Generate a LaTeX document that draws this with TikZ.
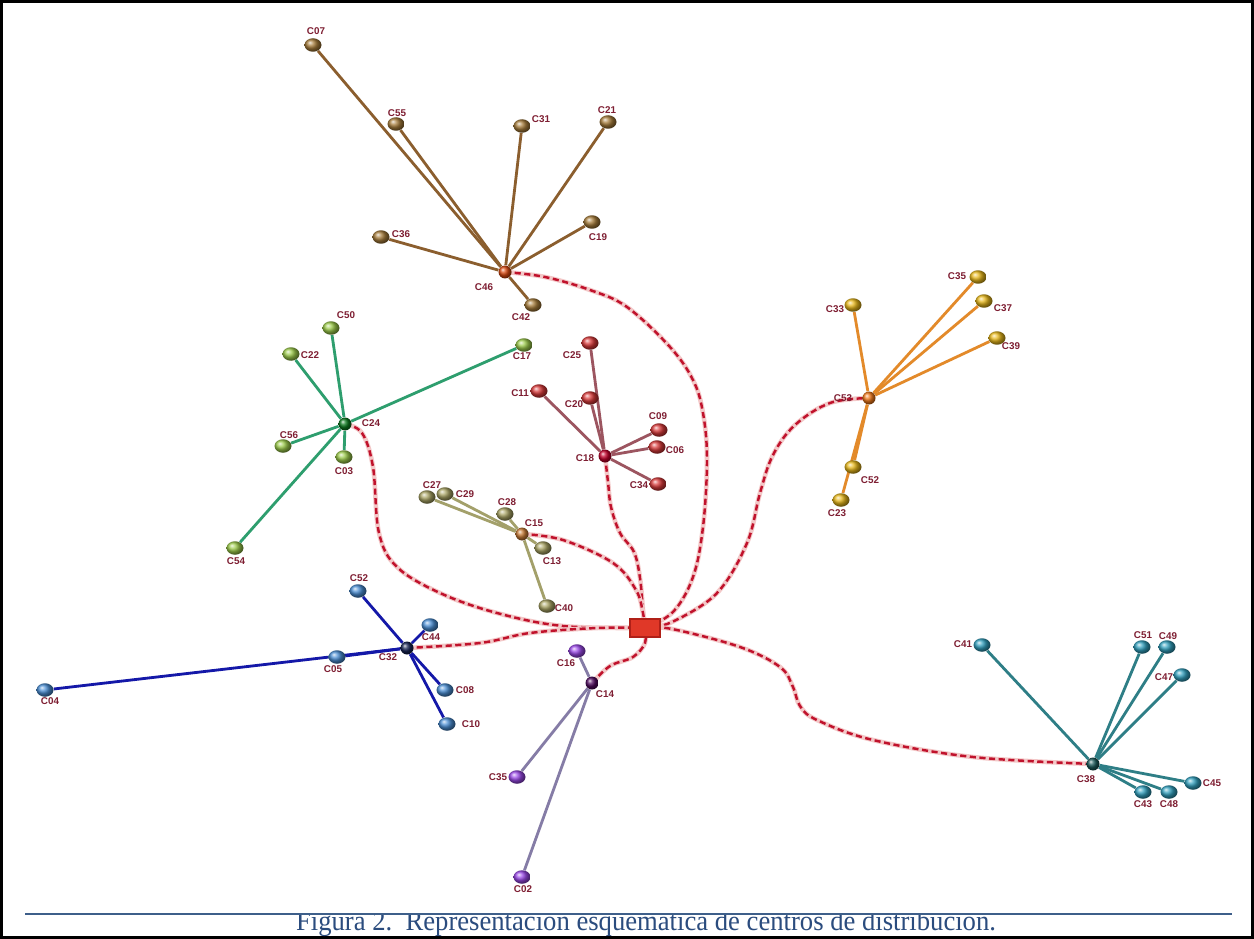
\documentclass[tikz,border=0pt]{standalone}
\usepackage{fontspec}
\usepackage{graphicx}
\usetikzlibrary{shapes.geometric,backgrounds}
\newfontfamily\labfont{Liberation Sans}
\newfontfamily\capfont{Liberation Serif}

% line and ball colours of each group
\definecolor{brLine}{HTML}{8B5E2E}\definecolor{brBall}{HTML}{A67C3A}\definecolor{brHub}{HTML}{D9480F}
\definecolor{grLine}{HTML}{2E9E6E}\definecolor{grBall}{HTML}{9CCB4A}\definecolor{grHub}{HTML}{0B7A1E}
\definecolor{rdLine}{HTML}{9C5560}\definecolor{rdBall}{HTML}{D93A3A}\definecolor{rdHub}{HTML}{C4002A}
\definecolor{orLine}{HTML}{E38A2A}\definecolor{orBall}{HTML}{E8B81A}\definecolor{orHub}{HTML}{F07818}
\definecolor{olLine}{HTML}{A3A06A}\definecolor{olBall}{HTML}{A9A464}\definecolor{olHub}{HTML}{C87A34}
\definecolor{blLine}{HTML}{1418A8}\definecolor{blBall}{HTML}{4A8ED4}\definecolor{blHub}{HTML}{142050}
\definecolor{puLine}{HTML}{857CA6}\definecolor{puBall}{HTML}{9A48E8}\definecolor{puHub}{HTML}{4E0A5E}
\definecolor{teLine}{HTML}{2E7E86}\definecolor{teBall}{HTML}{31A0BE}\definecolor{teHub}{HTML}{1A5858}
\definecolor{labRed}{HTML}{7E1E32}
\definecolor{routeRed}{HTML}{C0122C}
\definecolor{routeHalo}{HTML}{F3C8C8}
\definecolor{depotRed}{HTML}{E03828}
\definecolor{depotEdge}{HTML}{B02018}
\definecolor{capBlue}{HTML}{2B4C7E}
\definecolor{ruleBlue}{HTML}{3E5F8A}

\tikzset{
  cnode/.style={ellipse, minimum width=0.34cm, minimum height=0.27cm, inner sep=0pt, ball color=#1},
  hubnode/.style={circle, minimum size=0.26cm, inner sep=0pt, ball color=#1},
  depot/.style={rectangle, minimum width=0.60cm, minimum height=0.36cm, inner sep=0pt,
                fill=depotRed, draw=depotEdge, line width=0.6pt},
  lab/.style={font=\labfont\bfseries\fontsize{5.6}{6.5}\selectfont, text=labRed, inner sep=0.5pt},
  link/.style={draw=#1, line width=1.6pt},
  route/.style={preaction={draw=routeHalo, line width=2.6pt, solid},
                draw=routeRed, line width=1.4pt, dash pattern=on 3.5pt off 2pt},
}

\begin{document}
\begin{tikzpicture}[x=0.02cm, y=-0.02cm]
\useasboundingbox (0,0) rectangle (1254,939);

% ---------- central depot ----------
\node[depot] (dep) at (645,628) {};

% ---------- brown group (C46) ----------
\node[hubnode=brHub] (br46) at (505,272) {};
\node[cnode=brBall] (br07) at (313,45) {};
\node[cnode=brBall] (br55) at (396,124) {};
\node[cnode=brBall] (br31) at (522,126) {};
\node[cnode=brBall] (br21) at (608,122) {};
\node[cnode=brBall] (br19) at (592,222) {};
\node[cnode=brBall] (br36) at (381,237) {};
\node[cnode=brBall] (br42) at (533,305) {};
\node[lab] (lbr46) at (484,287) {C46};
\node[lab] (lbr07) at (316,31) {C07};
\node[lab] (lbr55) at (397,113) {C55};
\node[lab] (lbr31) at (541,119) {C31};
\node[lab] (lbr21) at (607,110) {C21};
\node[lab] (lbr19) at (598,237) {C19};
\node[lab] (lbr36) at (401,234) {C36};
\node[lab] (lbr42) at (521,317) {C42};

% ---------- green group (C24) ----------
\node[hubnode=grHub] (gr24) at (345,424) {};
\node[cnode=grBall] (gr50) at (331,328) {};
\node[cnode=grBall] (gr22) at (291,354) {};
\node[cnode=grBall] (gr17) at (524,345) {};
\node[cnode=grBall] (gr56) at (283,446) {};
\node[cnode=grBall] (gr03) at (344,457) {};
\node[cnode=grBall] (gr54) at (235,548) {};
\node[lab] (lgr24) at (371,423) {C24};
\node[lab] (lgr50) at (346,315) {C50};
\node[lab] (lgr22) at (310,355) {C22};
\node[lab] (lgr17) at (522,356) {C17};
\node[lab] (lgr56) at (289,435) {C56};
\node[lab] (lgr03) at (344,471) {C03};
\node[lab] (lgr54) at (236,561) {C54};

% ---------- red group (C18) ----------
\node[hubnode=rdHub] (rd18) at (605,456) {};
\node[cnode=rdBall] (rd25) at (590,343) {};
\node[cnode=rdBall] (rd11) at (539,391) {};
\node[cnode=rdBall] (rd20) at (590,398) {};
\node[cnode=rdBall] (rd09) at (659,430) {};
\node[cnode=rdBall] (rd06) at (657,447) {};
\node[cnode=rdBall] (rd34) at (658,484) {};
\node[lab] (lrd18) at (585,458) {C18};
\node[lab] (lrd25) at (572,355) {C25};
\node[lab] (lrd11) at (520,393) {C11};
\node[lab] (lrd20) at (574,404) {C20};
\node[lab] (lrd09) at (658,416) {C09};
\node[lab] (lrd06) at (675,450) {C06};
\node[lab] (lrd34) at (639,485) {C34};

% ---------- orange group (C53) ----------
\node[hubnode=orHub] (or53) at (869,398) {};
\node[cnode=orBall] (or33) at (853,305) {};
\node[cnode=orBall] (or35) at (978,277) {};
\node[cnode=orBall] (or37) at (984,301) {};
\node[cnode=orBall] (or39) at (997,338) {};
\node[cnode=orBall] (or52) at (853,467) {};
\node[cnode=orBall] (or23) at (841,500) {};
\node[lab] (lor53) at (843,398) {C53};
\node[lab] (lor33) at (835,309) {C33};
\node[lab] (lor35) at (957,276) {C35};
\node[lab] (lor37) at (1003,308) {C37};
\node[lab] (lor39) at (1011,346) {C39};
\node[lab] (lor52) at (870,480) {C52};
\node[lab] (lor23) at (837,513) {C23};

% ---------- olive group (C15) ----------
\node[hubnode=olHub] (ol15) at (522,534) {};
\node[cnode=olBall] (ol27) at (427,497) {};
\node[cnode=olBall] (ol29) at (445,494) {};
\node[cnode=olBall] (ol28) at (505,514) {};
\node[cnode=olBall] (ol13) at (543,548) {};
\node[cnode=olBall] (ol40) at (547,606) {};
\node[lab] (lol15) at (534,523) {C15};
\node[lab] (lol27) at (432,485) {C27};
\node[lab] (lol29) at (465,494) {C29};
\node[lab] (lol28) at (507,502) {C28};
\node[lab] (lol13) at (552,561) {C13};
\node[lab] (lol40) at (564,608) {C40};

% ---------- blue group (C32) ----------
\node[hubnode=blHub] (bl32) at (407,648) {};
\node[cnode=blBall] (bl52) at (358,591) {};
\node[cnode=blBall] (bl44) at (430,625) {};
\node[cnode=blBall] (bl05) at (337,657) {};
\node[cnode=blBall] (bl04) at (45,690) {};
\node[cnode=blBall] (bl08) at (445,690) {};
\node[cnode=blBall] (bl10) at (447,724) {};
\node[lab] (lbl32) at (388,657) {C32};
\node[lab] (lbl52) at (359,578) {C52};
\node[lab] (lbl44) at (431,637) {C44};
\node[lab] (lbl05) at (333,669) {C05};
\node[lab] (lbl04) at (50,701) {C04};
\node[lab] (lbl08) at (465,690) {C08};
\node[lab] (lbl10) at (471,724) {C10};

% ---------- purple group (C14) ----------
\node[hubnode=puHub] (pu14) at (592,683) {};
\node[cnode=puBall] (pu16) at (577,651) {};
\node[cnode=puBall] (pu35) at (517,777) {};
\node[cnode=puBall] (pu02) at (522,877) {};
\node[lab] (lpu14) at (605,694) {C14};
\node[lab] (lpu16) at (566,663) {C16};
\node[lab] (lpu35) at (498,777) {C35};
\node[lab] (lpu02) at (523,889) {C02};

% ---------- teal group (C38) ----------
\node[hubnode=teHub] (te38) at (1093,764) {};
\node[cnode=teBall] (te41) at (982,645) {};
\node[cnode=teBall] (te51) at (1142,647) {};
\node[cnode=teBall] (te49) at (1167,647) {};
\node[cnode=teBall] (te47) at (1182,675) {};
\node[cnode=teBall] (te43) at (1143,792) {};
\node[cnode=teBall] (te48) at (1169,792) {};
\node[cnode=teBall] (te45) at (1193,783) {};
\node[lab] (lte38) at (1086,779) {C38};
\node[lab] (lte41) at (963,644) {C41};
\node[lab] (lte51) at (1143,635) {C51};
\node[lab] (lte49) at (1168,636) {C49};
\node[lab] (lte47) at (1164,677) {C47};
\node[lab] (lte43) at (1143,804) {C43};
\node[lab] (lte48) at (1169,804) {C48};
\node[lab] (lte45) at (1212,783) {C45};

\begin{pgfonlayer}{background}
\fill[white] (0,0) rectangle (1254,939);
% links inside each group
\foreach \c in {br07,br55,br31,br21,br19,br36,br42} \draw[link=brLine] (br46) -- (\c);
\foreach \c in {gr50,gr22,gr17,gr56,gr03,gr54} \draw[link=grLine] (gr24) -- (\c);
\foreach \c in {rd25,rd11,rd20,rd09,rd06,rd34} \draw[link=rdLine] (rd18) -- (\c);
\foreach \c in {or33,or35,or37,or39,or52,or23} \draw[link=orLine] (or53) -- (\c);
\foreach \c in {ol27,ol29,ol28,ol13,ol40} \draw[link=olLine] (ol15) -- (\c);
\foreach \c in {bl52,bl44,bl05,bl04,bl08,bl10} \draw[link=blLine] (bl32) -- (\c);
\foreach \c in {pu16,pu35,pu02} \draw[link=puLine] (pu14) -- (\c);
\foreach \c in {te41,te51,te49,te47,te43,te48,te45} \draw[link=teLine] (te38) -- (\c);

% routes from the depot to each group centre
\draw[route] plot[smooth, tension=0.6] coordinates
  {(br46) (545,277) (590,290) (627,307) (670,347) (693,380) (703,413) (707,460) (703,527) (693,577) (673,612) (dep)};
\draw[route] plot[smooth, tension=0.6] coordinates
  {(rd18) (608,482) (611,507) (620,533) (634,552) (640,578) (643,610) (dep)};
\draw[route] plot[smooth, tension=0.6] coordinates
  {(ol15) (563,540) (613,563) (636,590) (643,613) (dep)};
\draw[route] plot[smooth, tension=0.6] coordinates
  {(gr24) (362,433) (373,467) (379,533) (397,567) (440,593) (497,613) (563,626) (dep)};
\draw[route] plot[smooth, tension=0.6] coordinates
  {(bl32) (480,643) (530,633) (597,628) (dep)};
\draw[route] plot[smooth, tension=0.6] coordinates
  {(dep) (645,643) (633,657) (610,666) (pu14)};
\draw[route] plot[smooth, tension=0.6] coordinates
  {(dep) (672,622) (717,593) (747,543) (760,493) (773,455) (795,425) (830,403) (or53)};
\draw[route] plot[smooth, tension=0.6] coordinates
  {(dep) (672,629) (740,647) (780,667) (793,687) (800,706) (817,720) (873,740) (973,757) (te38)};
\end{pgfonlayer}

% ---------- frame, rule and caption ----------
\draw[black, line width=0.06cm] (1.5,1.5) rectangle (1252.5,937.5);
\draw[ruleBlue, line width=0.035cm] (25,914) -- (1232,914);
\begin{scope}
  \clip (0,915.5) rectangle (1254,939);
  \node[anchor=base, inner sep=0pt, text=capBlue] (caption) at (646,930.5)
    {\resizebox{14cm}{1.15\height}{\capfont\fontsize{14}{16}\selectfont Figura 2.\ \ Representación esquemática de centros de distribución.}};
\end{scope}
\end{tikzpicture}
\end{document}
